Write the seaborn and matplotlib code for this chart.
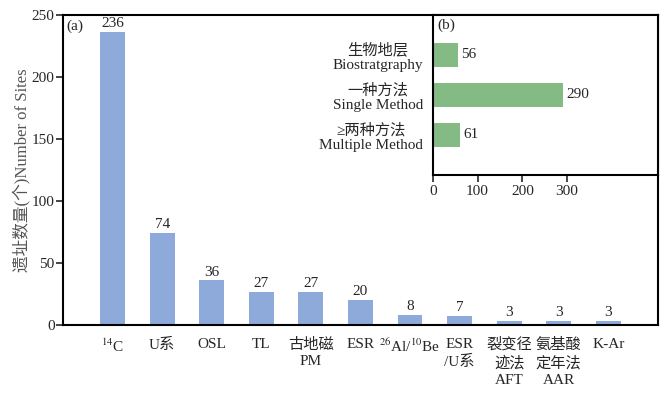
import matplotlib
matplotlib.use("Agg")
import matplotlib.pyplot as plt
import seaborn as sns

# main panel (a): dating methods
methods = ["$^{14}$C", "U系", "OSL", "TL", "古地磁\nPM", "ESR",
           "$^{26}$Al/$^{10}$Be", "ESR\n/U系", "裂变径\n迹法\nAFT", "氨基酸\n定年法\nAAR", "K-Ar"]
counts = [236, 74, 36, 27, 27, 20, 8, 7, 3, 3, 3]

# inset (b): number of methods per site
groups = ["生物地层\nBiostratgraphy", "一种方法\nSingle Method", "≥两种方法\nMultiple Method"]
group_counts = [56, 290, 61]

sns.set_theme(style="ticks")
plt.rcParams["font.family"] = ["Liberation Serif", "Noto Sans CJK SC", "DejaVu Sans"]
plt.rcParams["mathtext.fontset"] = "stix"

blue = "#8eaadb"
green = "#84bb84"
fs = 11

fig = plt.figure(figsize=(6.7, 4.04), dpi=100)
ax = fig.add_axes([0.094, 0.1955, 0.888, 0.7675])
sns.barplot(x=list(range(len(methods))), y=counts, color=blue, width=0.5,
            saturation=1, linewidth=0, ax=ax)
ax.set_xlim(-1, len(methods))
ax.set_ylim(0, 250)
ax.set_yticks(range(0, 251, 50))
ax.set_xticks(range(len(methods)))
ax.set_xticklabels(methods, fontsize=fs, linespacing=1.35, va="top")
ax.tick_params(axis="x", length=0, pad=9)
ax.tick_params(axis="y", direction="out", length=5, width=1.2, labelsize=fs, pad=1)
for sp in ax.spines.values():
    sp.set_color("black")
    sp.set_linewidth(1.5)
for i, v in enumerate(counts):
    ax.text(i, v + 1.5, str(v), ha="center", va="bottom", fontsize=fs)
ax.set_ylabel("遗址数量(个)Number of Sites", fontsize=12, color="#555555", labelpad=1)
ax.set_xlabel("")
ax.text(0.006, 0.985, "(a)", transform=ax.transAxes, ha="left", va="top", fontsize=fs)

# inset
axb = fig.add_axes([0.646, 0.567, 0.336, 0.396])
sns.barplot(x=group_counts, y=list(range(len(groups))), orient="h", color=green,
            width=0.6, saturation=1, linewidth=0, ax=axb)
axb.set_ylim(3, -1)
axb.set_xlim(0, 503)
axb.set_xticks([0, 100, 200, 300])
axb.set_yticks(range(len(groups)))
axb.set_yticklabels(groups, fontsize=fs, multialignment="center", linespacing=1.2)
axb.tick_params(axis="y", length=0, pad=7)
axb.tick_params(axis="x", direction="out", length=5, width=1.2, labelsize=fs, pad=2)
axb.set_xlabel("")
axb.set_ylabel("")
for sp in axb.spines.values():
    sp.set_color("black")
    sp.set_linewidth(1.5)
for i, v in enumerate(group_counts):
    axb.text(v + 8, i, str(v), ha="left", va="center", fontsize=fs)
axb.text(0.02, 0.975, "(b)", transform=axb.transAxes, ha="left", va="top", fontsize=fs)

fig.savefig("out.png", dpi=100)
